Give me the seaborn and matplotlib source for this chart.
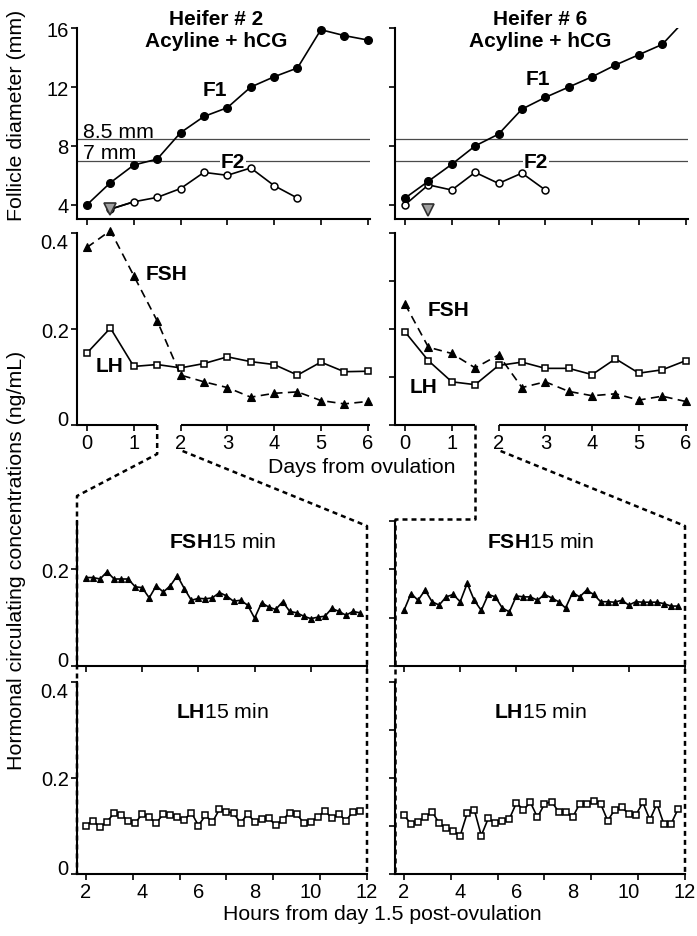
import numpy as np
import matplotlib
matplotlib.use("Agg")
import matplotlib.pyplot as plt
from matplotlib.lines import Line2D
import seaborn as sns

# ---------------- data ----------------
days = [0, 0.5, 1, 1.5, 2, 2.5, 3, 3.5, 4, 4.5, 5, 5.5, 6]

# Heifer 2 follicle diameters (mm)
h2_f1 = [4.0, 5.5, 6.7, 7.1, 8.9, 10.0, 10.6, 12.0, 12.7, 13.3, 15.9, 15.5, 15.2]
h2_f2_days = [0.5, 1, 1.5, 2, 2.5, 3, 3.5, 4, 4.5]
h2_f2 = [3.7, 4.2, 4.5, 5.1, 6.2, 6.0, 6.5, 5.3, 4.45]
h2_emerge = (0.5, 3.7)

# Heifer 6 follicle diameters (mm)
h6_f1 = [4.45, 5.6, 6.75, 8.0, 8.8, 10.5, 11.3, 12.0, 12.7, 13.5, 14.2, 14.9, 16.6]
h6_f2_days = [0, 0.5, 1, 1.5, 2, 2.5, 3]
h6_f2 = [4.0, 5.35, 5.0, 6.2, 5.45, 6.15, 5.0]
h6_emerge = (0.5, 3.65)

# Daily hormone concentrations (ng/mL)
h2_fsh = [0.370, 0.405, 0.311, 0.217, 0.104, 0.090, 0.078, 0.058, 0.066, 0.069, 0.051, 0.044, 0.049]
h2_lh = [0.150, 0.202, 0.122, 0.126, 0.119, 0.128, 0.142, 0.132, 0.126, 0.104, 0.131, 0.111, 0.112]
h6_fsh = [0.252, 0.162, 0.149, 0.119, 0.146, 0.078, 0.090, 0.070, 0.061, 0.065, 0.052, 0.060, 0.049]
h6_lh = [0.194, 0.134, 0.090, 0.084, 0.124, 0.131, 0.118, 0.118, 0.105, 0.138, 0.108, 0.115, 0.134]

# 15-min sampling window (hours from day 1.5)
hours = np.arange(2.0, 12.0, 0.25)
h2_fsh15 = [0.183, 0.183, 0.180, 0.195, 0.180, 0.180, 0.180, 0.164, 0.162, 0.141,
            0.166, 0.153, 0.166, 0.187, 0.160, 0.136, 0.140, 0.139, 0.141, 0.152,
            0.145, 0.134, 0.136, 0.126, 0.099, 0.131, 0.122, 0.117, 0.133, 0.113,
            0.110, 0.103, 0.098, 0.101, 0.103, 0.119, 0.113, 0.105, 0.113, 0.110]
h6_fsh15 = [0.115, 0.150, 0.136, 0.157, 0.133, 0.126, 0.143, 0.148, 0.133, 0.171,
            0.136, 0.115, 0.148, 0.143, 0.120, 0.112, 0.145, 0.143, 0.143, 0.136,
            0.148, 0.141, 0.133, 0.120, 0.152, 0.143, 0.157, 0.148, 0.133, 0.133,
            0.132, 0.136, 0.126, 0.133, 0.132, 0.132, 0.132, 0.129, 0.124, 0.124]
h2_lh15 = [0.101, 0.111, 0.097, 0.109, 0.127, 0.123, 0.111, 0.106, 0.125, 0.118,
           0.106, 0.125, 0.122, 0.118, 0.113, 0.128, 0.101, 0.122, 0.108, 0.135,
           0.130, 0.127, 0.106, 0.125, 0.109, 0.115, 0.116, 0.102, 0.113, 0.128,
           0.125, 0.106, 0.109, 0.118, 0.132, 0.116, 0.125, 0.111, 0.130, 0.132]
h6_lh15 = [0.123, 0.104, 0.109, 0.118, 0.130, 0.106, 0.095, 0.090, 0.080, 0.127,
           0.134, 0.080, 0.116, 0.106, 0.111, 0.115, 0.148, 0.134, 0.149, 0.118,
           0.146, 0.151, 0.130, 0.130, 0.118, 0.146, 0.146, 0.153, 0.146, 0.111,
           0.134, 0.139, 0.125, 0.123, 0.149, 0.113, 0.146, 0.104, 0.104, 0.135]

day_ticks = [0, 1, 2, 3, 4, 5, 6]
hour_labels = [2, 4, 6, 8, 10, 12]

# ---------------- style ----------------
sns.set_style("ticks")
plt.rcParams['font.family'] = ['Liberation Sans', 'DejaVu Sans']
plt.rcParams['mathtext.fontset'] = 'custom'
plt.rcParams['mathtext.rm'] = 'Liberation Sans'
plt.rcParams['mathtext.bf'] = 'Liberation Sans:bold'
for key in ['text.color', 'axes.labelcolor', 'xtick.color', 'ytick.color',
            'axes.edgecolor']:
    plt.rcParams[key] = 'black'

FS_TICK = 14.5
FS_LAB = 15.3
FS_VLAB = 15.4
FS_BOLD = 15
SPINE_LW = 1.5
LINE_LW = 1.2

W, H = 697, 937
fig = plt.figure(figsize=(W / 100, H / 100), dpi=100)


def rect(x0, y0, x1, y1):
    return [x0 / W, 1 - y1 / H, (x1 - x0) / W, (y1 - y0) / H]


top_l = fig.add_axes(rect(77, 28.5, 370, 220))
top_r = fig.add_axes(rect(395, 28.5, 688, 220))
mid_l = fig.add_axes(rect(77, 234, 370, 426))
mid_r = fig.add_axes(rect(395, 234, 688, 426))
fsh_l = fig.add_axes(rect(77, 522, 367, 667))
fsh_r = fig.add_axes(rect(395, 522, 685, 667))
lh_l = fig.add_axes(rect(77, 683, 367, 875))
lh_r = fig.add_axes(rect(395, 683, 685, 875))

for ax in [top_l, top_r, mid_l, mid_r, fsh_l, fsh_r, lh_l, lh_r]:
    sns.despine(ax=ax)
    for s in ['left', 'bottom']:
        ax.spines[s].set_linewidth(SPINE_LW)
        ax.spines[s].set_color('black')
    ax.tick_params(direction='out', length=4, width=1.2, color='black',
                   labelsize=FS_TICK, pad=2, labelcolor='black')
    ax.set_facecolor('none')


def line(ax, x, y, **kw):
    base = dict(ax=ax, color='black', lw=LINE_LW, estimator=None, sort=False,
                legend=False)
    base.update(kw)
    sns.lineplot(x=list(x), y=list(y), **base)


# ---------------- follicle panels ----------------
for ax, f1, f2d, f2, em, clip in [(top_l, h2_f1, h2_f2_days, h2_f2, h2_emerge, False),
                                   (top_r, h6_f1, h6_f2_days, h6_f2, h6_emerge, True)]:
    ax.axhline(8.5, color='#4a4a4a', lw=0.9, zorder=1)
    ax.axhline(7.0, color='#4a4a4a', lw=0.9, zorder=1)
    line(ax, f2d, f2, marker='o', markersize=5, markerfacecolor='white',
         markeredgecolor='black', markeredgewidth=1.1, zorder=3)
    line(ax, days, f1, marker='o', markersize=5.5, markerfacecolor='black',
         markeredgecolor='black', markeredgewidth=1, zorder=4, clip_on=clip)
    ax.plot([em[0]], [em[1]], marker='v', markersize=8, markerfacecolor='#a0a0a0',
            markeredgecolor='#303030', markeredgewidth=1.2, ls='none', zorder=5,
            clip_on=False)
    ax.set_xlim(-0.214, 6.05)
    ax.set_ylim(3.03, 16.05)
    ax.set_xticks(day_ticks)
    ax.set_yticks([4, 8, 12, 16])
    ax.tick_params(labelbottom=False)
    ax.set_xlabel('')
    ax.set_ylabel('')

top_r.tick_params(labelleft=False)

# first F2 point of heifer 2 is the emergence marker itself; join it to the line
top_l.plot([h2_emerge[0], h2_f2_days[1]], [h2_emerge[1], h2_f2[1]], color='black',
           lw=LINE_LW, zorder=2)

top_l.text(-0.085, 8.99, '8.5 mm', fontsize=FS_LAB, va='center', ha='left')
top_l.text(-0.085, 7.55, '7 mm', fontsize=FS_LAB, va='center', ha='left')
white = dict(facecolor='white', edgecolor='none', pad=0.5)
top_l.text(2.74, 11.83, 'F1', fontsize=FS_BOLD, fontweight='bold', ha='center', va='center')
top_l.text(3.12, 6.95, 'F2', fontsize=FS_BOLD, fontweight='bold', ha='center', va='center',
           bbox=white, zorder=2)
top_r.text(2.85, 12.57, 'F1', fontsize=FS_BOLD, fontweight='bold', ha='center', va='center')
top_r.text(2.8, 6.95, 'F2', fontsize=FS_BOLD, fontweight='bold', ha='center', va='center',
           bbox=white, zorder=2)

top_l.text(0.474, 0.99, 'Heifer # 2\nAcyline + hCG', transform=top_l.transAxes,
           fontsize=FS_BOLD, fontweight='bold', ha='center', va='center', linespacing=1.2)
top_r.text(0.495, 0.99, 'Heifer # 6\nAcyline + hCG', transform=top_r.transAxes,
           fontsize=FS_BOLD, fontweight='bold', ha='center', va='center', linespacing=1.2)

# ---------------- daily hormone panels ----------------
for ax, fsh, lh in [(mid_l, h2_fsh, h2_lh), (mid_r, h6_fsh, h6_lh)]:
    line(ax, days, lh, marker='s', markersize=4.6, markerfacecolor='white',
         markeredgecolor='black', markeredgewidth=1.1, zorder=3, clip_on=False)
    line(ax, days, fsh, marker='^', markersize=5.3, markerfacecolor='black',
         markeredgecolor='black', markeredgewidth=0.8, zorder=4, clip_on=False,
         linestyle=(0, (5, 3.2)))
    ax.set_xlim(-0.214, 6.05)
    ax.set_ylim(0, 0.4)
    ax.set_xticks(day_ticks)
    ax.set_xticklabels([str(d) for d in day_ticks])
    ax.set_xlabel('')
    ax.set_ylabel('')
    # bottom axis broken between day 1.5 and day 2
    ax.spines['bottom'].set_visible(False)
    xt = ax.get_xaxis_transform()
    for a, b in [(-0.214, 1.5), (2.0, 6.05)]:
        ax.plot([a, b], [0, 0], transform=xt, color='black', lw=SPINE_LW,
                clip_on=False, solid_capstyle='butt', zorder=5)

mid_l.set_yticks([0, 0.2, 0.4])
mid_l.set_yticklabels(['0', '0.2', '0.4'])
mid_r.set_yticks([0, 0.1, 0.2, 0.3, 0.4])
mid_r.tick_params(labelleft=False)

mid_l.text(1.69, 0.315, 'FSH', fontsize=FS_BOLD, fontweight='bold', ha='center', va='center')
mid_l.text(0.49, 0.123, 'LH', fontsize=FS_BOLD, fontweight='bold', ha='center', va='center')
mid_r.text(0.92, 0.24, 'FSH', fontsize=FS_BOLD, fontweight='bold', ha='center', va='center')
mid_r.text(0.39, 0.081, 'LH', fontsize=FS_BOLD, fontweight='bold', ha='center', va='center')

# ---------------- 15-min sampling panels ----------------
for ax, vals in [(fsh_l, h2_fsh15), (fsh_r, h6_fsh15)]:
    line(ax, hours, vals, marker='^', markersize=4.6, markerfacecolor='black',
         markeredgecolor='black', markeredgewidth=0.8, zorder=3)
    ax.set_ylim(0, 0.3)
    ax.set_xlim(1.68, 12.0)
    ax.set_xticks(hour_labels)
    ax.tick_params(labelbottom=False)
    ax.set_xlabel('')
    ax.set_ylabel('')
    ax.text(6.86, 0.258, r'$\mathbf{FSH}$15 min', fontsize=FS_LAB, ha='center', va='center')

for ax, vals in [(lh_l, h2_lh15), (lh_r, h6_lh15)]:
    line(ax, hours, vals, marker='s', markersize=4.2, markerfacecolor='white',
         markeredgecolor='black', markeredgewidth=1.1, zorder=3)
    ax.set_ylim(0, 0.4)
    ax.set_xlim(1.68, 12.0)
    ax.xaxis.remove_overlapping_locs = False
    ax.set_xticks(np.linspace(2, 12, 7))
    ax.set_xticks(hour_labels, minor=True)
    ax.set_xticklabels([str(h) for h in hour_labels], minor=True)
    ax.tick_params(axis='x', which='major', labelbottom=False)
    ax.tick_params(axis='x', which='minor', length=0, labelsize=FS_TICK, pad=6,
                   labelcolor='black')
    ax.set_xlabel('')
    ax.set_ylabel('')
    ax.text(6.86, 0.3375, r'$\mathbf{LH}$15 min', fontsize=FS_LAB, ha='center', va='center')

fsh_l.set_yticks([0, 0.2])
fsh_l.set_yticklabels(['0', '0.2'])
fsh_r.set_yticks([0, 0.1, 0.2, 0.3])
fsh_r.tick_params(labelleft=False)
lh_l.set_yticks([0, 0.2, 0.4])
lh_l.set_yticklabels(['0', '0.2', '0.4'])
lh_r.set_yticks([0, 0.1, 0.2, 0.3, 0.4])
lh_r.tick_params(labelleft=False)

# hormone axes: "0" sits just above its tick, "0.4" just below its tick
for ax in [mid_l, fsh_l, lh_l]:
    ticks = ax.yaxis.get_major_ticks()
    ticks[0].label1.set_verticalalignment('baseline')
    if ax is not fsh_l:
        ticks[-1].label1.set_verticalalignment('top')

# ---------------- axis titles ----------------
fig.text(17 / W, 1 - 115 / H, 'Follicle diameter (mm)', rotation=90, fontsize=FS_VLAB,
         ha='center', va='center')
fig.text(17 / W, 1 - 560 / H, 'Hormonal circulating concentrations (ng/mL)', rotation=90,
         fontsize=FS_VLAB, ha='center', va='center')
fig.text(362 / W, 1 - 468 / H, 'Days from ovulation', fontsize=FS_LAB, ha='center',
         va='center')
fig.text(382 / W, 1 - 915 / H, 'Hours from day 1.5 post-ovulation', fontsize=FS_LAB,
         ha='center', va='center')

# ---------------- zoom connectors (dotted) ----------------
fig.canvas.draw()


def px(ax, x, y, coords='data'):
    tr = ax.transData if coords == 'data' else ax.transAxes
    p = tr.transform((x, y))
    return p[0], H - p[1]


def connector(points):
    xs = [p[0] / W for p in points]
    ys = [1 - p[1] / H for p in points]
    fig.add_artist(Line2D(xs, ys, transform=fig.transFigure, color='black', lw=1.8,
                          linestyle=(0, (2.0, 1.6)), zorder=10))


for mid, fsh, lh in [(mid_l, fsh_l, lh_l), (mid_r, fsh_r, lh_r)]:
    a = px(mid, 1.5, 0)
    b = px(mid, 2.0, 0)
    fl_top = px(fsh, 0, 1, 'axes')
    fr_top = px(fsh, 1, 1, 'axes')
    lh_bot_l = px(lh, 0, 0, 'axes')
    lh_bot_r = px(lh, 1, 0, 'axes')
    if mid is mid_l:
        connector([a, (a[0], a[1] + 29), (fl_top[0], fl_top[1] - 25),
                   (lh_bot_l[0], lh_bot_l[1])])
    else:
        connector([a, (a[0], fl_top[1] - 2), (fl_top[0], fl_top[1] - 2),
                   (lh_bot_l[0], lh_bot_l[1])])
    connector([(b[0] + 2, b[1] + 26), (fr_top[0], fr_top[1] + 5),
               (lh_bot_r[0], lh_bot_r[1])])

fig.savefig('out.png', dpi=100)
